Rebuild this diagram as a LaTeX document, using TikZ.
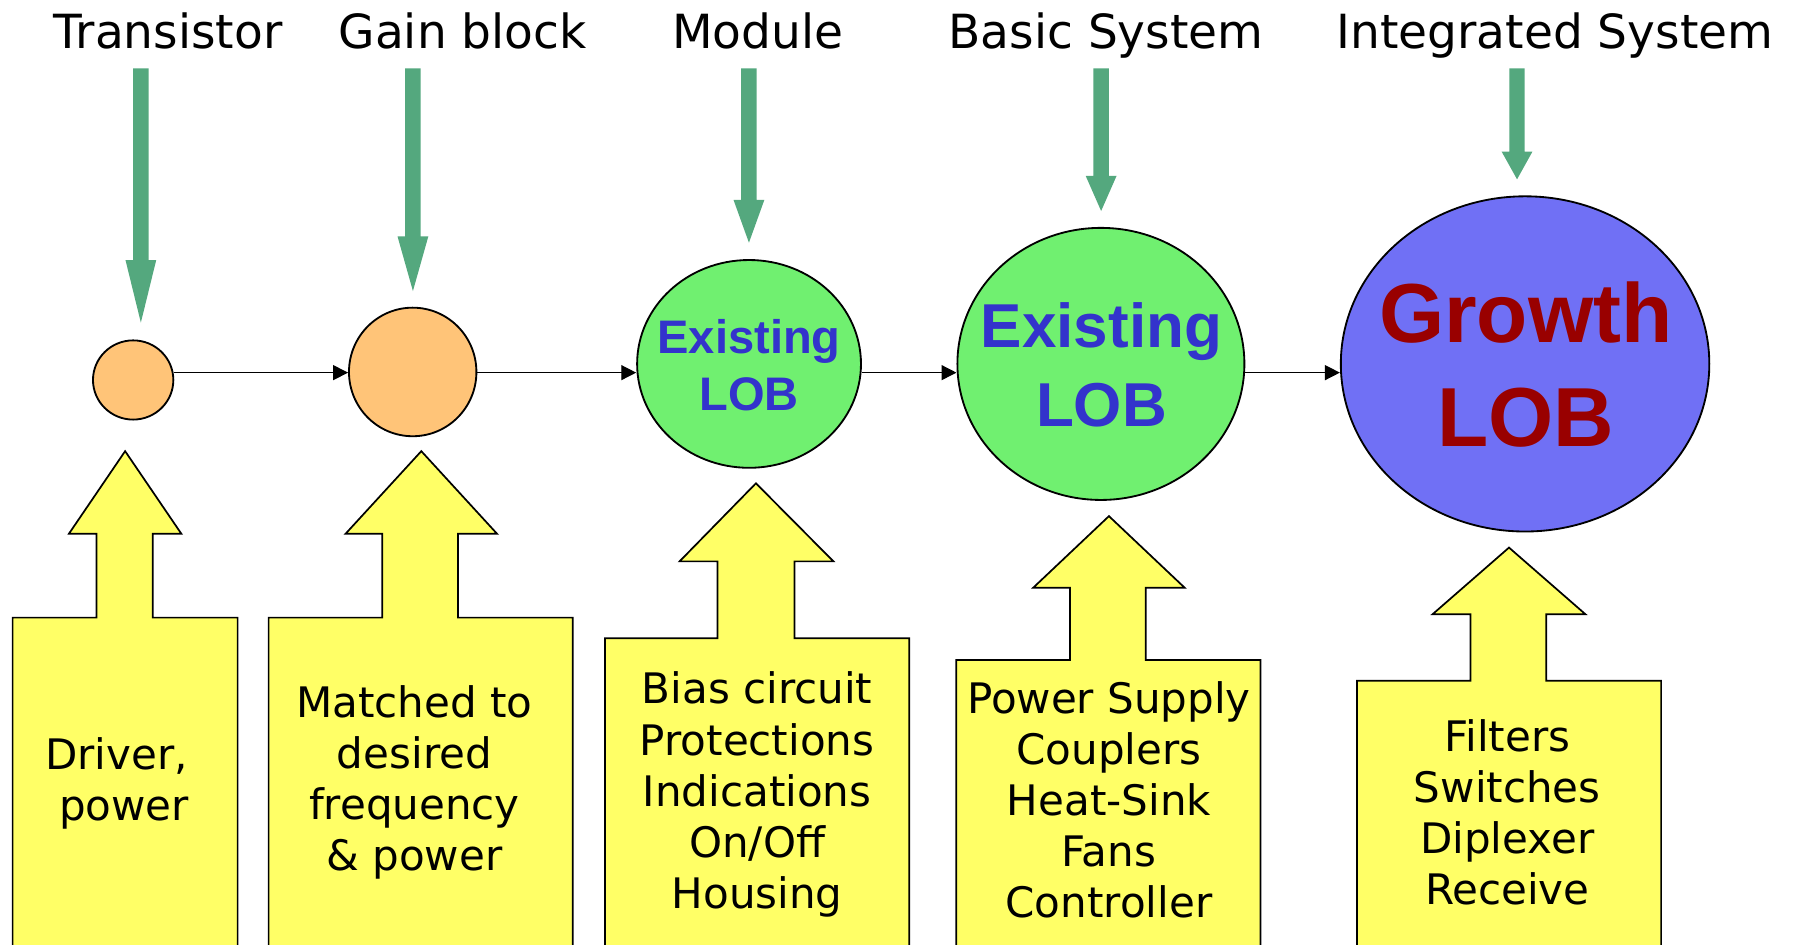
\documentclass[tikz,border=0pt]{standalone}
\usepackage{fontspec}
\setmainfont{DejaVu Sans}
\newfontfamily\lobfont{Liberation Sans}
\usetikzlibrary{shapes.geometric,arrows.meta}
\definecolor{orangefill}{RGB}{255,196,120}
\definecolor{greenfill}{RGB}{112,240,112}
\definecolor{bluefill}{RGB}{112,112,245}
\definecolor{arrowgreen}{RGB}{84,168,126}
\definecolor{yellowfill}{RGB}{255,255,102}
\definecolor{lobblue}{RGB}{51,51,204}
\definecolor{lobred}{RGB}{153,0,0}
\tikzset{
  bubble/.style={ellipse, draw=black, line width=1.6pt, inner sep=0pt},
  toplabel/.style={anchor=base, inner sep=0pt, font=\fontsize{41}{49}\selectfont},
  boxtext/.style={anchor=north, inner sep=0pt, align=center, font=\fontsize{36.6}{44.5}\selectfont},
  ybox/.style={fill=yellowfill, draw=black, line width=1.5pt, line join=miter},
  greenarrow/.style={fill=arrowgreen},
  conn/.style={draw=black, line width=1.2pt, -{Triangle[length=13pt,width=13pt]}},
  lobtext/.style={inner sep=0pt, align=center},
}
\newcommand\downarrowshape[3]{%
  \fill[greenarrow] ({#1-6.7},59.5) -- ({#1+6.7},59.5) -- ({#1+6.7},#2) -- ({#1+13.4},#2)
    -- (#1,#3) -- ({#1-13.4},#2) -- ({#1-6.7},#2) -- cycle;}
\begin{document}
\begin{tikzpicture}[x=1pt,y=-1pt]
\useasboundingbox (0,0) rectangle (1568,823);
\clip (0,0) rectangle (1568,823);
\fill[white] (0,0) rectangle (1568,823);

% top labels
\node[toplabel] (l1) at (146.5,42) {Transistor};
\node[toplabel] (l2) at (403,42) {Gain block};
\node[toplabel] (l3) at (660,42) {Module};
\node[toplabel] (l4) at (963.5,42) {Basic System};
\node[toplabel] (l5) at (1354.5,42) {Integrated System};

% green arrows
\downarrowshape{122.7}{226.5}{281}
\downarrowshape{359.7}{206}{253.5}
\downarrowshape{652.4}{174.2}{211.4}
\downarrowshape{959.2}{153.3}{183.8}
\downarrowshape{1321.5}{132.1}{156.2}

% bubbles
\node[bubble, fill=orangefill, minimum width=70pt, minimum height=69pt] (c1) at (116,331) {};
\node[bubble, fill=orangefill, minimum width=111pt, minimum height=112pt] (c2) at (359.5,324) {};
\node[bubble, fill=greenfill, minimum width=195pt, minimum height=181pt] (c3) at (652.5,317) {};
\node[bubble, fill=greenfill, minimum width=250pt, minimum height=237pt] (c4) at (959,317) {};
\node[bubble, fill=bluefill, minimum width=321pt, minimum height=292pt] (c5) at (1328.5,317) {};

\node[lobtext, text=lobblue, font=\lobfont\bfseries\fontsize{41}{50}\selectfont] (c3t) at (652.5,318) {Existing\\LOB};
\node[lobtext, text=lobblue, font=\lobfont\bfseries\fontsize{54}{68.7}\selectfont] (c4t) at (959.5,318) {Existing\\LOB};
\node[lobtext, text=lobred, font=\lobfont\bfseries\fontsize{73}{90}\selectfont] (c5t) at (1329,317.5) {Growth\\LOB};

% connectors
\coordinate (L) at (0,324.6);
\draw[conn] (c1.east |- L) -- (c2.west |- L);
\draw[conn] (c2.east |- L) -- (c3.west |- L);
\draw[conn] (c3.east |- L) -- (c4.west |- L);
\draw[conn] (c4.east |- L) -- (c5.west |- L);

% yellow arrows
\draw[ybox] (11,830) -- (11,538) -- (84,538) -- (84,465) -- (60,465) -- (109,393)
  -- (158,465) -- (133,465) -- (133,538) -- (207,538) -- (207,830) -- cycle;
\draw[ybox] (234,830) -- (234,538) -- (333,538) -- (333,465) -- (301,465) -- (367,393)
  -- (433,465) -- (399,465) -- (399,538) -- (499,538) -- (499,830) -- cycle;
\draw[ybox] (527,830) -- (527,556) -- (625,556) -- (625,489) -- (592,489) -- (658.5,421)
  -- (726,489) -- (692,489) -- (692,556) -- (792,556) -- (792,830) -- cycle;
\draw[ybox] (833,830) -- (833,575) -- (932,575) -- (932,512) -- (900,512) -- (966,449.6)
  -- (1032,512) -- (998,512) -- (998,575) -- (1098,575) -- (1098,830) -- cycle;
\draw[ybox] (1182,830) -- (1182,593) -- (1281,593) -- (1281,535) -- (1248,535) -- (1314.5,477)
  -- (1381,535) -- (1347,535) -- (1347,593) -- (1447,593) -- (1447,830) -- cycle;

% box texts
\node[boxtext] (t1) at (108,642.2) {Driver,\hspace*{13pt}\\power};
\node[boxtext] (t2) at (361,597.2) {Matched to\\desired\\frequency\\\& power};
\node[boxtext] (t3) at (659.5,585.2) {Bias circuit\\Protections\\Indications\\On/Off\\Housing};
\node[boxtext] (t4) at (966,593.2) {Power Supply\\Couplers\\Heat-Sink\\Fans\\Controller};
\node[boxtext] (t5) at (1313,626.2) {Filters\\Switches\\Diplexer\\Receive};
\end{tikzpicture}
\end{document}
